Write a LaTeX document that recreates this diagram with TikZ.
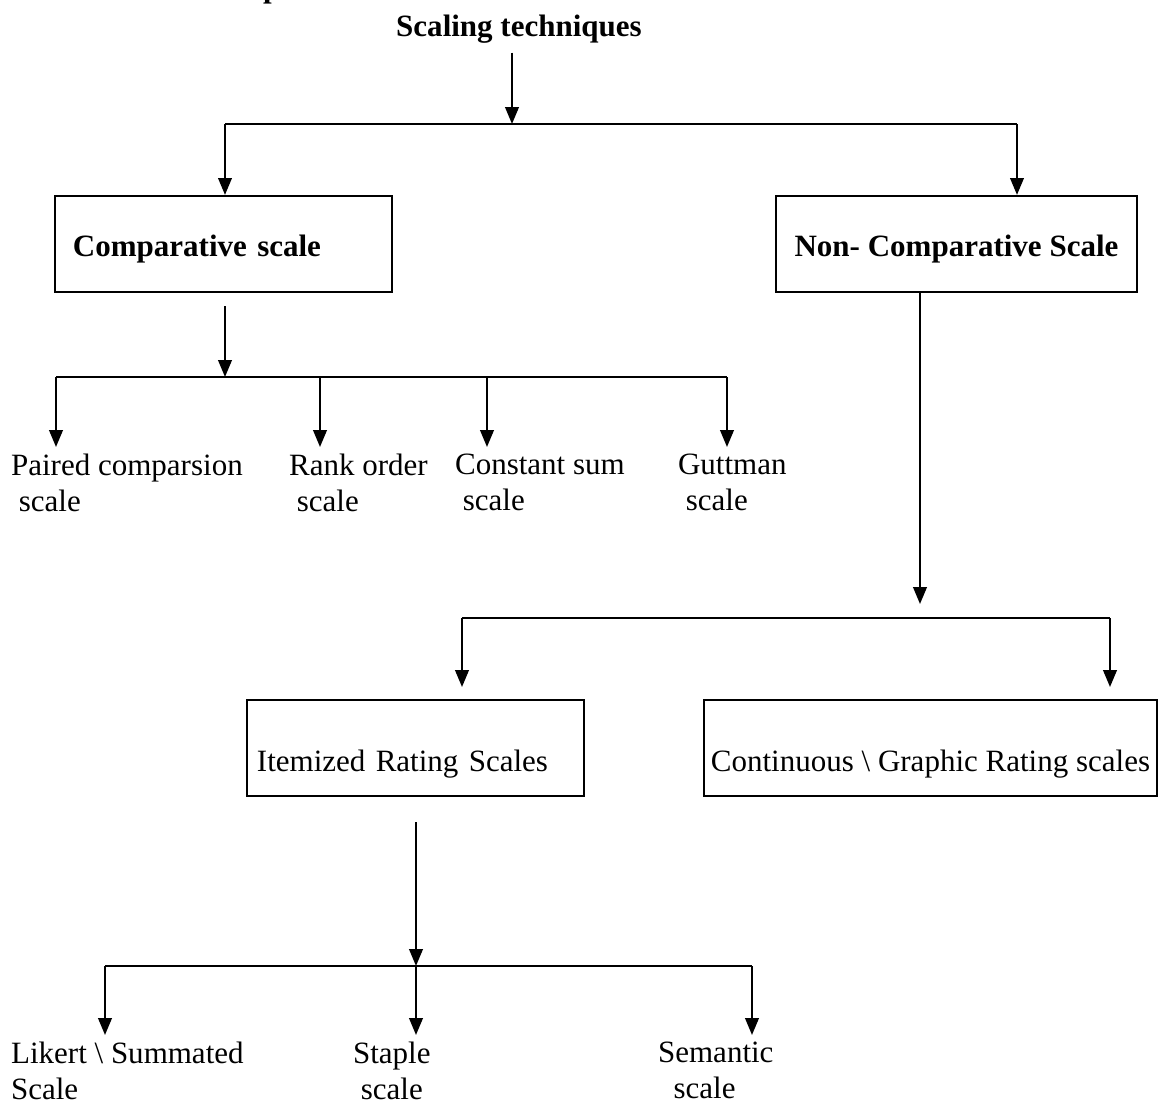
\documentclass[tikz,border=0pt]{standalone}
\usepackage{fontspec}
\setmainfont{Liberation Serif}
\usetikzlibrary{arrows.meta}

\def\u{0.387pt}
\tikzset{
  arr/.style={-{Triangle[length=6.5pt,width=5.2pt]}},
  box/.style={draw, inner ysep=0pt, minimum height=96*\u},
  leaf/.style={anchor=north west, align=left, inner xsep=0pt, inner ysep=6*\u},
}

\begin{document}
\begin{tikzpicture}[x=\u,y=-\u,line width=0.85pt,font=\fontsize{12}{13.8}\selectfont]
      \useasboundingbox (0,0) rectangle (1162,1106);
      \draw
        (262,-3) node[anchor=base west, inner sep=0pt, font=\fontsize{12}{13.8}\selectfont\bfseries] (frag) {p}
        (519,36) node[anchor=base, font=\fontsize{12}{13.8}\selectfont\bfseries] (top) {Scaling techniques}
        (223.5,244) node[box, minimum width=337*\u, inner xsep=18*\u, text width=116.5pt, align=left,
          text height=12.5pt, text depth=2.6pt, font=\fontsize{12}{13.8}\selectfont\bfseries] (comp) {Comparative scale}
        (956.5,244) node[box, minimum width=361*\u, inner xsep=0pt,
          text height=12.5pt, text depth=2.6pt, font=\fontsize{12}{13.8}\selectfont\bfseries] (ncomp) {Non- Comparative Scale}
        (415.5,748) node[box, minimum width=337*\u, inner xsep=10*\u, text width=122.7pt, align=left,
          text height=21pt, text depth=2.6pt] (item) {Itemized Rating Scales}
        (930.5,748) node[box, minimum width=453*\u, inner xsep=0pt,
          text height=21pt, text depth=2.6pt] (cont) {Continuous \textbackslash{} Graphic Rating scales}
        (10,447) node[leaf] (paired) {Paired comparsion\\~scale}
        (288,447) node[leaf] (rank) {Rank order\\~scale}
        (454,447) node[leaf] (const) {Constant sum\\~scale}
        (677,447) node[leaf] (gutt) {Guttman\\~scale}
        (10,1035) node[leaf] (likert) {Likert \textbackslash{} Summated\\Scale}
        (352,1035) node[leaf] (staple) {Staple\\~scale}
        (657,1035) node[leaf] (sem) {Semantic\\~~scale};
      % branch points
      \coordinate (j0) at (512,124);
      \coordinate (jl) at (225,124);
      \coordinate (jr) at (1017,124);
      \coordinate (c1) at (225,377);
      \coordinate (b1) at (56,377);
      \coordinate (b2) at (320,377);
      \coordinate (b3) at (487,377);
      \coordinate (b4) at (727,377);
      \coordinate (n0) at (920,604);
      \coordinate (nl) at (462,618);
      \coordinate (nr) at (1110,618);
      \coordinate (i1) at (416,966);
      \coordinate (il) at (105,966);
      \coordinate (ir) at (752,966);
      \begin{scope}[arr]
        \draw (top.south -| j0) to (j0);
        \draw[-] (jl) to (jr);
        \draw (jl) to (jl |- comp.north);
        \draw (jr) to (jr |- ncomp.north);
        \draw[shorten <=5pt] (comp.south -| c1) to (c1);
        \draw[-] (b1) to (b4);
        \foreach \b/\n in {b1/paired,b2/rank,b3/const,b4/gutt}
          \draw (\b) to (\b |- \n.north);
        \draw (ncomp.south -| n0) to (n0);
        \draw[-] (nl) to (nr);
        \draw[shorten >=4.6pt] (nl) to (nl |- item.north);
        \draw[shorten >=4.6pt] (nr) to (nr |- cont.north);
        \draw[shorten <=9.7pt] (item.south -| i1) to (i1);
        \draw[-] (il) to (ir);
        \foreach \b/\n in {il/likert,i1/staple,ir/sem}
          \draw (\b) to (\b |- \n.north);
      \end{scope}
    \end{tikzpicture}
\end{document}
